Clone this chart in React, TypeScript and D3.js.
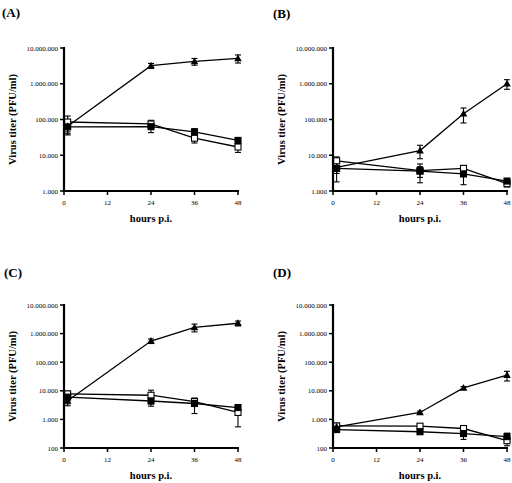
import React from "react";
import * as d3 from "d3";

const hours = [1, 24, 36, 48];
const xTicks = [0, 12, 24, 36, 48];
const panelLabels = ["(A)", "(B)", "(C)", "(D)"];
const yTicksAB = [1e3, 1e4, 1e5, 1e6, 1e7];
const yTicksCD = [1e2, 1e3, 1e4, 1e5, 1e6, 1e7];

// Panel A
const A_tri = [65000, 3200000, 4200000, 5100000];
const A_tri_err = [25000, 500000, 900000, 1300000];
const A_fsq = [62000, 63000, 45000, 26000];
const A_fsq_err = [25000, 20000, 10000, 5000];
const A_osq = [85000, 75000, 30000, 17000];
const A_osq_err = [40000, 20000, 8000, 5000];

// Panel B
const B_tri = [4600, 13500, 145000, 1000000];
const B_tri_err = [1500, 5500, 65000, 300000];
const B_fsq = [4300, 3600, 3000, 1900];
const B_fsq_err = [2500, 1200, 1500, 300];
const B_osq = [7000, 3700, 4300, 1600];
const B_osq_err = [2000, 2000, 800, 300];

// Panel C
const C_tri = [4500, 550000, 1650000, 2300000];
const C_tri_err = [1500, 100000, 500000, 450000];
const C_fsq = [6000, 4400, 3600, 2600];
const C_fsq_err = [2500, 1500, 2000, 400];
const C_osq = [7800, 7000, 4200, 1750];
const C_osq_err = [2000, 3500, 1000, 1200];

// Panel D
const D_tri = [550, 1750, 12600, 35000];
const D_tri_err = [100, 200, 1500, 13000];
const D_fsq = [440, 370, 320, 250];
const D_fsq_err = [80, 50, 120, 80];
const D_osq = [590, 580, 480, 180];
const D_osq_err = [150, 100, 120, 60];

type Series = { vals: number[]; err: number[]; marker: "tri" | "fsq" | "osq" };

const panels = [
  { label: panelLabels[0], x0: 64, x1: 238, yTop: 48, yBot: 191, ticks: yTicksAB, lx: 2, ly: 17,
    series: [
      { vals: A_osq, err: A_osq_err, marker: "osq" },
      { vals: A_fsq, err: A_fsq_err, marker: "fsq" },
      { vals: A_tri, err: A_tri_err, marker: "tri" },
    ] as Series[] },
  { label: panelLabels[1], x0: 333, x1: 507, yTop: 48, yBot: 191, ticks: yTicksAB, lx: 273, ly: 18,
    series: [
      { vals: B_osq, err: B_osq_err, marker: "osq" },
      { vals: B_fsq, err: B_fsq_err, marker: "fsq" },
      { vals: B_tri, err: B_tri_err, marker: "tri" },
    ] as Series[] },
  { label: panelLabels[2], x0: 64, x1: 238, yTop: 305, yBot: 448, ticks: yTicksCD, lx: 4, ly: 277,
    series: [
      { vals: C_osq, err: C_osq_err, marker: "osq" },
      { vals: C_fsq, err: C_fsq_err, marker: "fsq" },
      { vals: C_tri, err: C_tri_err, marker: "tri" },
    ] as Series[] },
  { label: panelLabels[3], x0: 333, x1: 507, yTop: 305, yBot: 448, ticks: yTicksCD, lx: 273, ly: 277,
    series: [
      { vals: D_osq, err: D_osq_err, marker: "osq" },
      { vals: D_fsq, err: D_fsq_err, marker: "fsq" },
      { vals: D_tri, err: D_tri_err, marker: "tri" },
    ] as Series[] },
];

const fmt = (v: number) => d3.format(",")(v).replace(/,/g, ".");
const serifStyle = { fontFamily: "Liberation Serif, Times New Roman, DejaVu Serif, serif" };

function Panel({ p }: { p: (typeof panels)[number] }) {
  const x = d3.scaleLinear().domain([0, 48]).range([p.x0, p.x1]);
  const y = d3.scaleLog().domain([p.ticks[0], 1e7]).range([p.yBot, p.yTop]).clamp(true);
  const line = d3.line<number>().x((_, i) => x(hours[i])).y((v) => y(v));
  const midY = (p.yTop + p.yBot) / 2;
  return (
    <g style={serifStyle}>
      <text x={p.lx} y={p.ly} fontWeight="bold" fontSize={13}>{p.label}</text>
      {p.series.map((s, si) => (
        <path key={"l" + si} d={line(s.vals) || ""} fill="none" stroke="#000" strokeWidth={1.3} />
      ))}
      {p.series.map((s, si) =>
        s.vals.map((v, i) => {
          const cx = x(hours[i]);
          const hi = y(v + s.err[i]);
          const lo = y(Math.max(v - s.err[i], 1));
          return (
            <g key={"e" + si + "-" + i} stroke="#000" strokeWidth={1.1}>
              <line x1={cx} x2={cx} y1={hi} y2={lo} />
              <line x1={cx - 3} x2={cx + 3} y1={hi} y2={hi} />
              <line x1={cx - 3} x2={cx + 3} y1={lo} y2={lo} />
            </g>
          );
        })
      )}
      {p.series.map((s, si) =>
        s.vals.map((v, i) => {
          const cx = x(hours[i]);
          const cy = y(v);
          if (s.marker === "tri") {
            return (
              <path key={"m" + si + "-" + i}
                d={`M${cx},${cy - 4} L${cx + 3.8},${cy + 2.8} L${cx - 3.8},${cy + 2.8} Z`}
                fill="#000" />
            );
          }
          return (
            <rect key={"m" + si + "-" + i} x={cx - 3} y={cy - 3} width={6} height={6}
              fill={s.marker === "fsq" ? "#000" : "#fff"} stroke="#000" strokeWidth={1.1} />
          );
        })
      )}
      <line x1={p.x0} x2={p.x0} y1={p.yTop - 1} y2={p.yBot + 1} stroke="#000" strokeWidth={2.2} />
      <line x1={p.x0 - 1} x2={p.x1 + 1} y1={p.yBot} y2={p.yBot} stroke="#000" strokeWidth={2.2} />
      {p.ticks.map((t) => (
        <g key={"yt" + t}>
          <line x1={p.x0 - 4} x2={p.x0} y1={y(t)} y2={y(t)} stroke="#000" strokeWidth={1.5} />
          <text x={p.x0 - 6} y={y(t) + 2.5} textAnchor="end" fontSize={7}>{fmt(t)}</text>
        </g>
      ))}
      {xTicks.map((t) => (
        <g key={"xt" + t}>
          <line x1={x(t)} x2={x(t)} y1={p.yBot} y2={p.yBot + 4} stroke="#000" strokeWidth={1.5} />
          <text x={x(t)} y={p.yBot + 14} textAnchor="middle" fontSize={7}>{t}</text>
        </g>
      ))}
      <text x={(p.x0 + p.x1) / 2} y={p.yBot + 31} textAnchor="middle" fontWeight="bold" fontSize={10.5}>hours p.i.</text>
      <text transform={`translate(${p.x0 - 48},${midY}) rotate(-90)`} textAnchor="middle"
        fontWeight="bold" fontSize={10.5}>Virus titer (PFU/ml)</text>
    </g>
  );
}

export default function App() {
  return (
    <svg width={512} height={483} style={{ position: "absolute", left: 0, top: 0, background: "#fff" }}>
      <rect width={512} height={483} fill="#fff" />
      {panels.map((p) => (
        <Panel key={p.label} p={p} />
      ))}
    </svg>
  );
}
